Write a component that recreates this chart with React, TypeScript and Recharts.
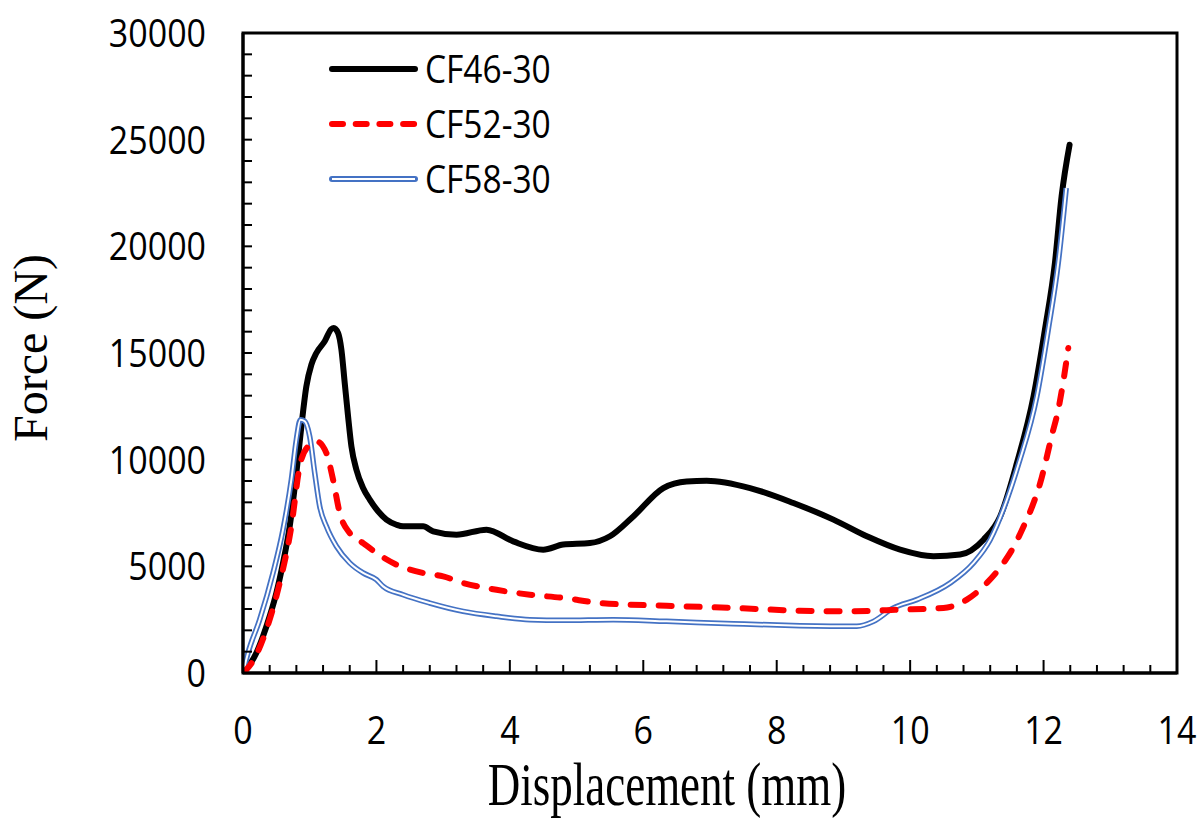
import React from 'react';
import { LineChart, Line, XAxis, YAxis, Legend, ReferenceArea } from 'recharts';

// ---- data ----
const cf46X = [0, 0.1, 0.2, 0.3, 0.4, 0.5, 0.6, 0.7, 0.8, 0.875, 0.95, 1.025, 1.1, 1.225, 1.325, 1.36, 1.425, 1.475, 1.525, 1.575, 1.625, 1.7, 1.8, 1.9, 2.025, 2.15, 2.3, 2.4, 2.7, 2.85, 3.2, 3.65, 4.05, 4.5, 4.8, 5.2, 5.5, 5.85, 6.3, 6.65, 6.95, 7.6, 8.25, 8.85, 9.35, 9.85, 10.35, 10.75, 11.1, 11.35, 11.6, 11.85, 12.02, 12.17, 12.27, 12.39];
const cf46Y = [0, 390, 940, 1720, 2660, 3750, 5160, 6875, 9375, 11560, 13440, 14450, 15000, 15550, 16125, 16170, 15940, 15160, 13590, 12030, 10625, 9530, 8670, 8125, 7580, 7190, 6950, 6875, 6875, 6640, 6480, 6720, 6170, 5780, 6020, 6090, 6410, 7340, 8670, 8980, 9010, 8670, 7970, 7190, 6410, 5780, 5470, 5550, 6250, 7340, 9840, 12970, 16090, 19220, 22340, 24760];

const cf52X = [0, 0.175, 0.35, 0.55, 0.725, 0.85, 0.975, 1.1, 1.25, 1.35, 1.45, 1.6, 1.8, 2.0, 2.3, 2.7, 3.0, 3.3, 3.8, 4.3, 4.8, 5.35, 6.35, 7.35, 8.35, 9.0, 9.85, 10.5, 10.85, 11.15, 11.4, 11.55, 11.7, 11.83, 11.95, 12.05, 12.12, 12.22, 12.3, 12.37];
const cf52Y = [0, 700, 2030, 4220, 6875, 9690, 10625, 10860, 10310, 9060, 7500, 6560, 6090, 5625, 5080, 4690, 4530, 4220, 3900, 3670, 3520, 3280, 3150, 3050, 2920, 2890, 2970, 3050, 3440, 4220, 5160, 5900, 6870, 7810, 8910, 10150, 11090, 12340, 13750, 15230];

const cf58X = [0, 0.075, 0.25, 0.45, 0.6, 0.725, 0.8, 0.86, 0.925, 1.0, 1.075, 1.15, 1.25, 1.4, 1.6, 1.8, 2.0, 2.1, 2.4, 2.8, 3.3, 3.8, 4.3, 4.8, 5.55, 6.35, 7.35, 8.35, 9.2, 9.45, 9.75, 10.1, 10.6, 10.95, 11.2, 11.45, 11.63, 11.9, 12.07, 12.22, 12.34];
const cf58Y = [0, 940, 2500, 4690, 6720, 9060, 10940, 11875, 11800, 11090, 9375, 7810, 6875, 5940, 5160, 4690, 4375, 4060, 3670, 3280, 2890, 2660, 2500, 2470, 2500, 2420, 2310, 2220, 2190, 2420, 3050, 3440, 4220, 5160, 6250, 8120, 9840, 12970, 16090, 19220, 22730];

const seriesNames = ['CF46-30', 'CF52-30', 'CF58-30'];

const xTicks = [0, 0.4, 0.8, 1.2, 1.6, 2, 2.4, 2.8, 3.2, 3.6, 4, 4.4, 4.8, 5.2, 5.6, 6, 6.4, 6.8, 7.2, 7.6, 8, 8.4, 8.8, 9.2, 9.6, 10, 10.4, 10.8, 11.2, 11.6, 12, 12.4, 12.8, 13.2, 13.6, 14];
const xLabels = [0, 2, 4, 6, 8, 10, 12, 14];
const yTicks = [0, 1000, 2000, 3000, 4000, 5000, 6000, 7000, 8000, 9000, 10000, 11000, 12000, 13000, 14000, 15000, 16000, 17000, 18000, 19000, 20000, 21000, 22000, 23000, 24000, 25000, 26000, 27000, 28000, 29000, 30000];
const yLabels = [0, 5000, 10000, 15000, 20000, 25000, 30000];

const xTitle = 'Displacement (mm)';
const yTitle = 'Force (N)';

const toPoints = (xs: number[], ys: number[]) => xs.map((x, i) => ({ x, y: ys[i] }));
const cf46 = toPoints(cf46X, cf46Y);
const cf52 = toPoints(cf52X, cf52Y);
const cf58 = toPoints(cf58X, cf58Y);

const SANS = "'Open Sans', 'Noto Sans', sans-serif";
const SERIF = "'Liberation Serif', 'Times New Roman', serif";
const BLUE = '#4472C4';

const isMajor = (list: number[], v: number) => list.some((m) => Math.abs(m - v) < 1e-6);

const XTick = (props: any) => {
  const { x, y, payload } = props;
  const major = isMajor(xLabels, payload.value);
  return (
    <g>
      <line x1={x} x2={x} y1={y} y2={y - (major ? 13 : 8)} stroke="#000" strokeWidth={2} />
      {major && (
        <text
          transform={`translate(${x},${y + 71}) scale(1,1.15)`}
          textAnchor="middle"
          fontFamily={SANS}
          fontSize={34}
          fill="#000"
        >
          {payload.value}
        </text>
      )}
    </g>
  );
};

const YTick = (props: any) => {
  const { x, y, payload } = props;
  const major = isMajor(yLabels, payload.value);
  return (
    <g>
      <line x1={x} x2={x + 9} y1={y} y2={y} stroke="#000" strokeWidth={2} />
      {major && (
        <text
          transform={`translate(${x - 37},${y + 14}) scale(1,1.12)`}
          textAnchor="end"
          fontFamily={SANS}
          fontSize={34}
          fill="#000"
        >
          {payload.value}
        </text>
      )}
    </g>
  );
};

const XTitle = () => (
  <text
    transform="translate(667,805) scale(1,1.34)"
    textAnchor="middle"
    fontFamily={SERIF}
    fontSize={45}
    fill="#000"
  >
    {xTitle}
  </text>
);

const YTitle = () => (
  <text
    transform="translate(47,348) rotate(-90)"
    textAnchor="middle"
    fontFamily={SERIF}
    fontSize={48}
    fill="#000"
  >
    {yTitle}
  </text>
);

const legendLook: Record<string, { stroke: string; width: number; dash?: string; double?: boolean }> = {
  'CF46-30': { stroke: '#000', width: 6 },
  'CF52-30': { stroke: '#FF0000', width: 6, dash: '11 12.7' },
  'CF58-30': { stroke: BLUE, width: 6, double: true },
};

const renderLegend = (props: any) => {
  const items = (props.payload || [])
    .filter((p: any) => seriesNames.includes(p.value))
    .sort((a: any, b: any) => seriesNames.indexOf(a.value) - seriesNames.indexOf(b.value));
  return (
    <svg width={260} height={170} style={{ display: 'block', overflow: 'visible' }}>
      {items.map((entry: any, i: number) => {
        const cy = 29 + i * 55;
        const look = legendLook[entry.value];
        return (
          <g key={entry.value}>
            <line
              x1={9}
              x2={92}
              y1={cy}
              y2={cy}
              stroke={look.stroke}
              strokeWidth={look.width}
              strokeDasharray={look.dash}
              strokeLinecap="round"
            />
            {look.double && <line x1={9} x2={92} y1={cy} y2={cy} stroke="#fff" strokeWidth={2.2} />}
            <text
              transform={`translate(102,${cy + 14}) scale(1,1.17)`}
              fontFamily={SANS}
              fontSize={33.5}
              fill="#000"
            >
              {entry.value}
            </text>
          </g>
        );
      })}
    </svg>
  );
};

export default function App() {
  return (
    <div style={{ width: 1202, height: 821, background: '#fff' }}>
      <style>{'body{margin:0;background:#fff}'}</style>
      <LineChart width={1202} height={821} margin={{ top: 33, right: 25, left: 0, bottom: 0 }}>
        <XAxis
          type="number"
          dataKey="x"
          domain={[0, 14]}
          ticks={xTicks}
          interval={0}
          allowDataOverflow
          height={148}
          tickSize={0}
          tickMargin={0}
          tickLine={false}
          tick={<XTick />}
          axisLine={{ stroke: '#000', strokeWidth: 3 }}
          label={() => <XTitle />}
        />
        <YAxis
          type="number"
          dataKey="y"
          domain={[0, 30000]}
          ticks={yTicks}
          interval={0}
          allowDataOverflow
          width={243}
          tickSize={0}
          tickMargin={0}
          tickLine={false}
          tick={<YTick />}
          axisLine={{ stroke: '#000', strokeWidth: 3 }}
          label={() => <YTitle />}
        />
        <ReferenceArea x1={0} x2={14} y1={0} y2={30000} fill="none" stroke="#000" strokeWidth={3} ifOverflow="visible" />
        <Line
          data={cf46}
          dataKey="y"
          name="CF46-30"
          type="monotone"
          stroke="#000"
          strokeWidth={6}
          strokeLinecap="round"
          dot={false}
          isAnimationActive={false}
        />
        <Line
          data={cf58}
          dataKey="y"
          name="CF58-30"
          type="monotone"
          stroke={BLUE}
          strokeWidth={5.5}
          dot={false}
          isAnimationActive={false}
        />
        <Line
          data={cf58}
          dataKey="y"
          name="CF58-30 inner"
          legendType="none"
          type="monotone"
          stroke="#fff"
          strokeWidth={2}
          dot={false}
          isAnimationActive={false}
        />
        <Line
          data={cf52}
          dataKey="y"
          name="CF52-30"
          type="monotone"
          stroke="#FF0000"
          strokeWidth={6}
          strokeDasharray="13 15"
          strokeLinecap="round"
          dot={false}
          isAnimationActive={false}
        />
        <Legend
          layout="vertical"
          align="center"
          verticalAlign="middle"
          content={renderLegend}
          wrapperStyle={{ top: 40, left: 323, width: 260, height: 170 }}
        />
      </LineChart>
    </div>
  );
}
